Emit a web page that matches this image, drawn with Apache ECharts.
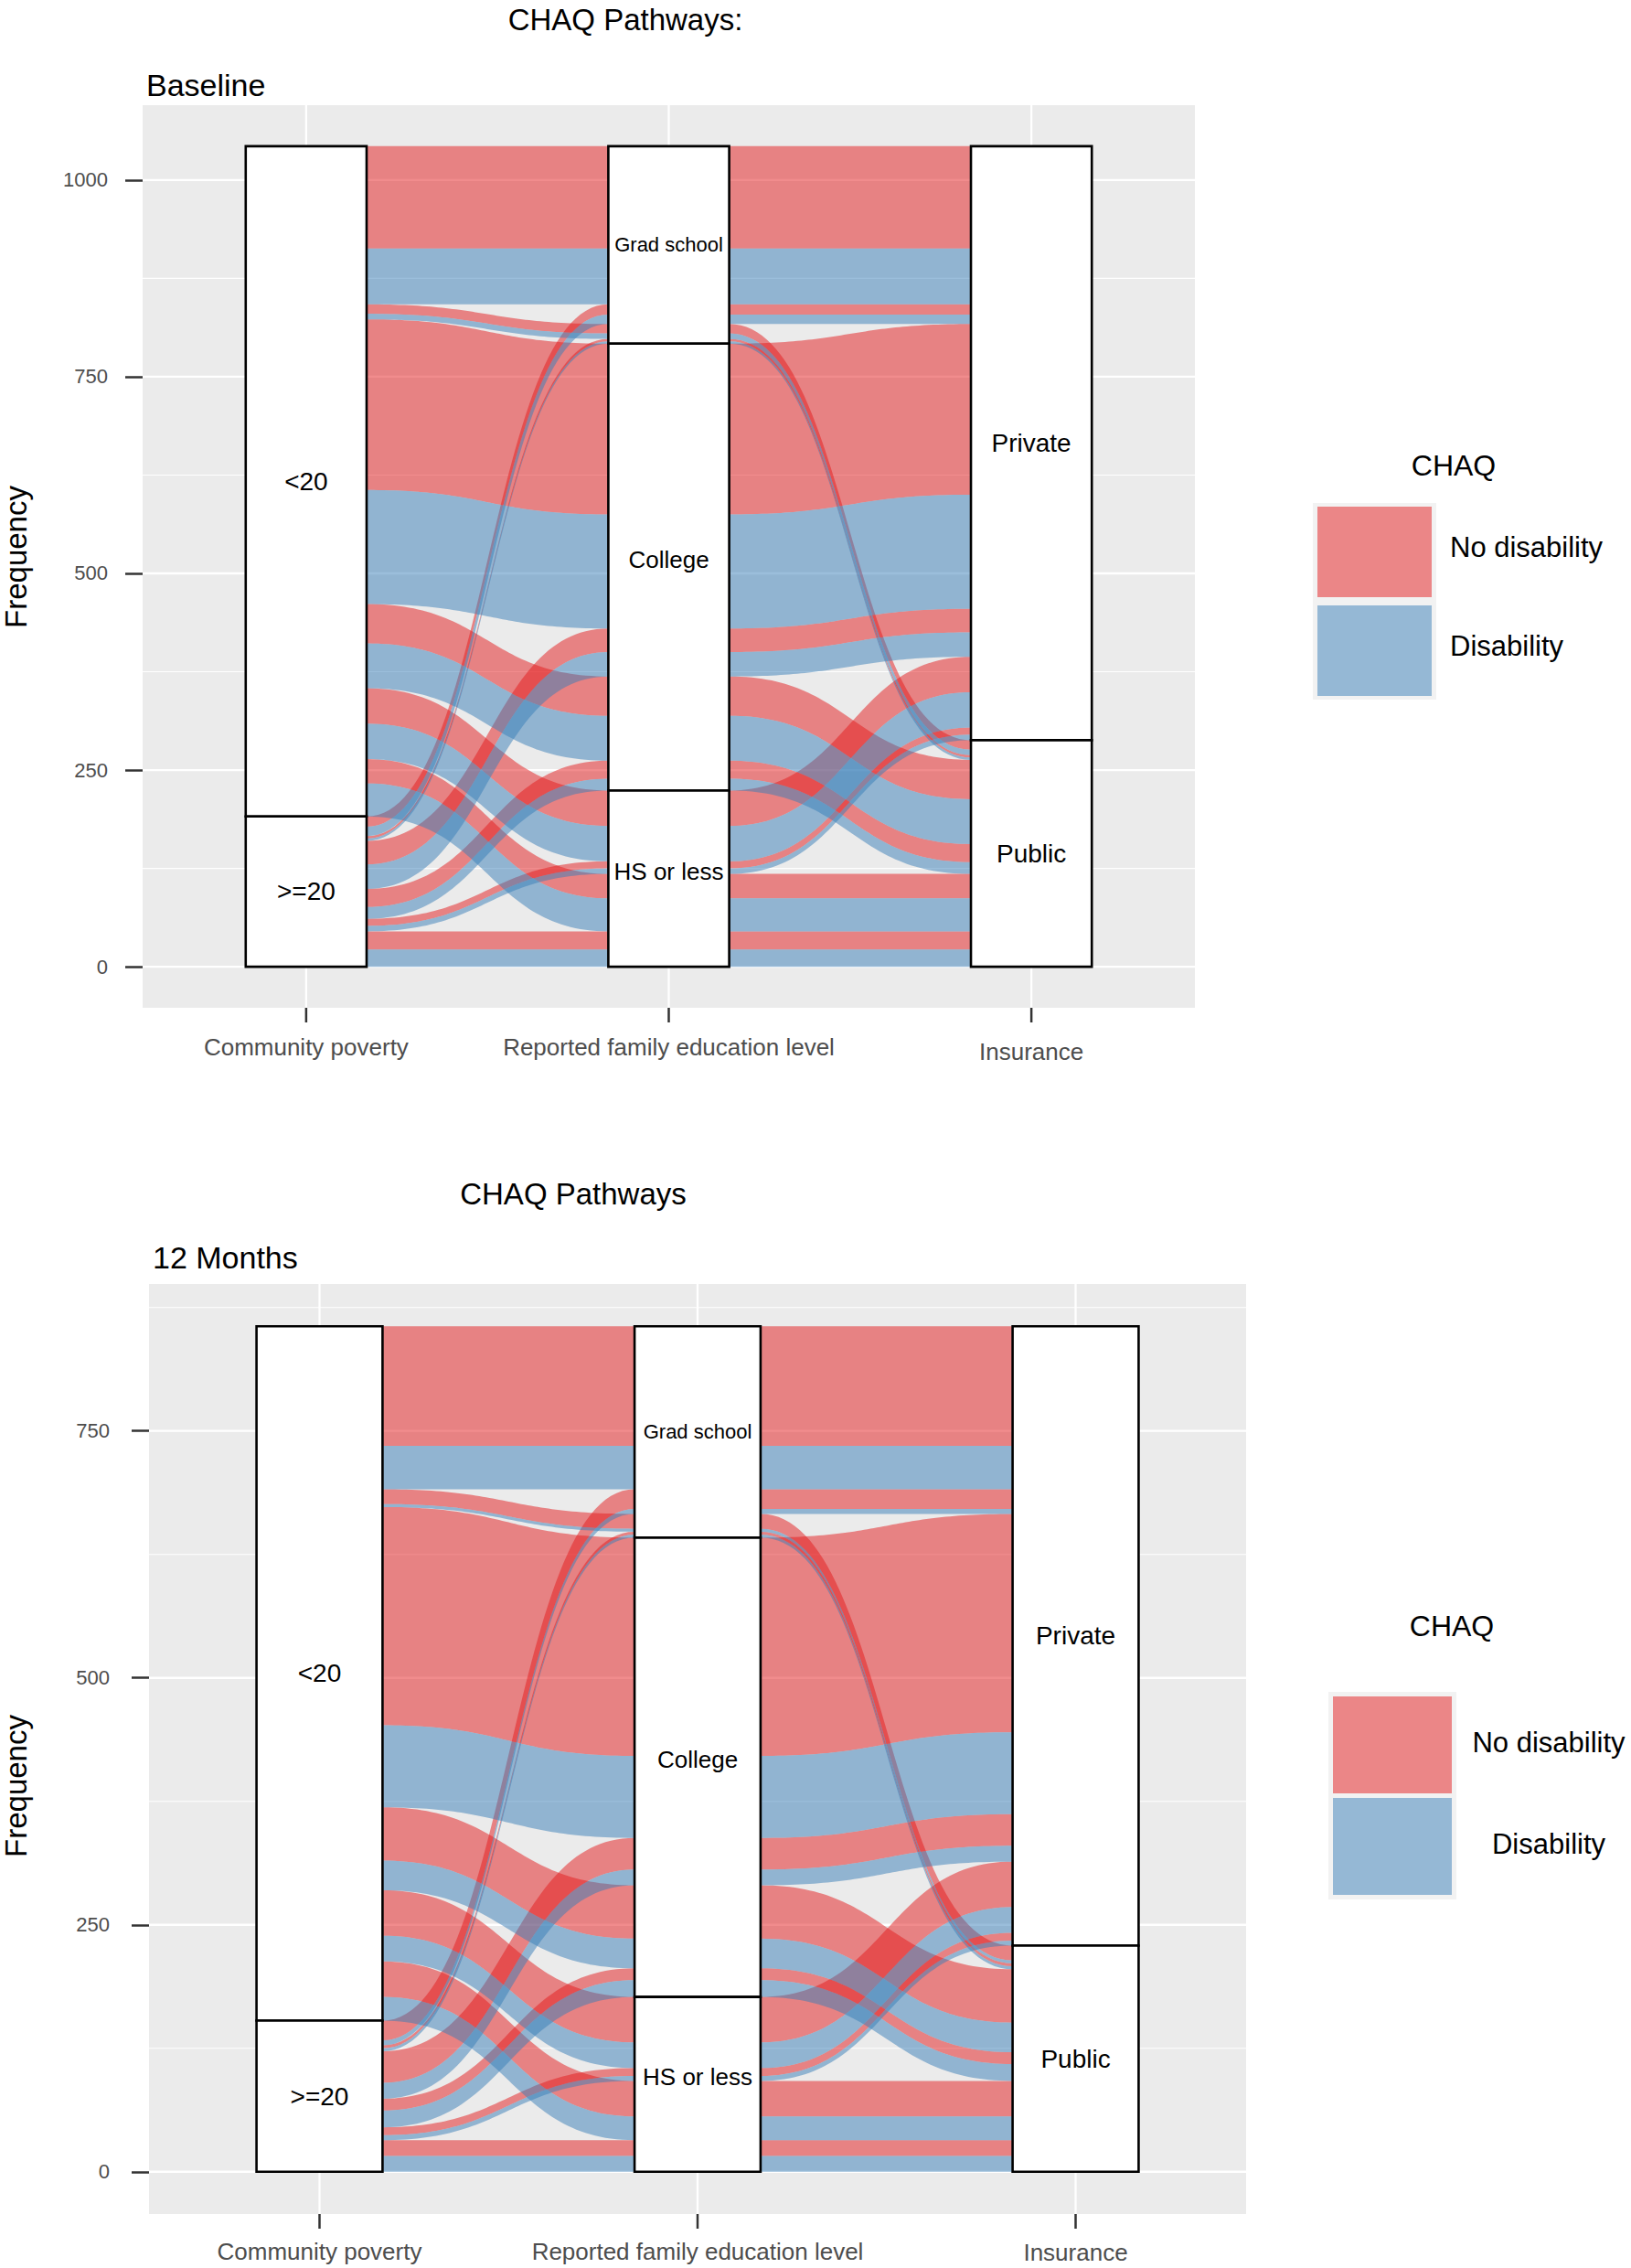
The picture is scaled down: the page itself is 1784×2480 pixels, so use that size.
<!DOCTYPE html>
<html><head><meta charset="utf-8">
<script src="https://cdn.jsdelivr.net/npm/echarts@6/dist/echarts.min.js"></script>
<style>html,body{margin:0;padding:0;background:#fff}#chart{width:1784px;height:2480px}</style>
</head><body><div id="chart"></div>
<script>
// ---------- data ----------
const axisNames = ['Community poverty', 'Reported family education level', 'Insurance'];
const povertyLevels = ['<20', '>=20'];
const educationLevels = ['Grad school', 'College', 'HS or less'];
const insuranceLevels = ['Private', 'Public'];
const chaqLevels = ['No disability', 'Disability'];
// counts per combination, ordered poverty -> education -> insurance
// (<20: Grad/Private, Grad/Public, College/Private, College/Public, HS/Private, HS/Public, then the same for >=20)
const baselineNoDisability = [130, 12, 217, 50, 45, 31, 13, 3, 30, 23, 9, 23];
const baselineDisability   = [71, 7, 145, 57, 45, 42, 12, 3, 31, 15, 7, 22];
const months12NoDisability = [121, 15, 221, 54, 46, 36, 20, 3, 32, 12, 8, 16];
const months12Disability   = [44, 3, 83, 30, 26, 24, 5, 3, 16, 17, 5, 16];
const baselineTicks = [0, 250, 500, 750, 1000];
const baselineMinorTicks = [125, 375, 625, 875];
const months12Ticks = [0, 250, 500, 750];
const months12MinorTicks = [125, 375, 625, 875];
const axisPositions = [1, 2, 3];

// ---------- layout helpers ----------
const FONT = 'Liberation Sans, Arial, Helvetica, sans-serif';
const RED = 'rgba(228,26,28,0.5)';
const BLUE = 'rgba(55,126,184,0.5)';
const HW = 1 / 6;             // half stratum width (axis units)
const XMIN = 0.549, XMAX = 3.451;
const levelSets = [povertyLevels, educationLevels, insuranceLevels];

function buildAlluvia(noDis, dis) {
  const list = [];
  let k = 0;
  for (let p = 0; p < povertyLevels.length; p++)
    for (let e = 0; e < educationLevels.length; e++)
      for (let i = 0; i < insuranceLevels.length; i++) {
        list.push({p, e, i, f: 0, n: noDis[k]});
        list.push({p, e, i, f: 1, n: dis[k]});
        k++;
      }
  const total = list.reduce((s, a) => s + a.n, 0);
  const orders = [
    a => [a.p, a.e, a.i, a.f],
    a => [a.e, a.i, a.p, a.f],
    a => [a.i, a.e, a.p, a.f]
  ];
  const keyOf = [a => a.p, a => a.e, a => a.i];
  const strata = [];
  orders.forEach((ord, ax) => {
    const sorted = list.slice().sort((a, b) => {
      const ka = ord(a), kb = ord(b);
      for (let j = 0; j < 4; j++) if (ka[j] !== kb[j]) return ka[j] - kb[j];
      return 0;
    });
    let y = total;
    const top = {}, bot = {};
    sorted.forEach(a => {
      a['t' + ax] = y; y -= a.n; a['b' + ax] = y;
      const s = keyOf[ax](a);
      if (!(s in top)) top[s] = a['t' + ax];
      bot[s] = y;
    });
    levelSets[ax].forEach((name, s) => strata.push([axisPositions[ax], top[s], bot[s], s]));
  });
  const flows = f => list.filter(a => a.f === f).map(a => [a.t0, a.b0, a.t1, a.b1, a.t2, a.b2]);
  return {total, strata, red: flows(0), blue: flows(1)};
}

function bez(p0, p1, t) {
  const xm = (p0[0] + p1[0]) / 2, u = 1 - t;
  return [
    u * u * u * p0[0] + 3 * u * u * t * xm + 3 * u * t * t * xm + t * t * t * p1[0],
    u * u * u * p0[1] + 3 * u * u * t * p0[1] + 3 * u * t * t * p1[1] + t * t * t * p1[1]
  ];
}

function flowRenderer(color) {
  return function (params, api) {
    const ys = [0, 1, 2, 3, 4, 5].map(j => api.value(j));
    const children = [];
    for (let s = 0; s < 2; s++) {
      const xa = axisPositions[s] + HW, xb = axisPositions[s + 1] - HW;
      const ta = api.coord([xa, ys[2 * s]]), ba = api.coord([xa, ys[2 * s + 1]]);
      const tb = api.coord([xb, ys[2 * s + 2]]), bb = api.coord([xb, ys[2 * s + 3]]);
      const pts = [];
      const N = 60;
      for (let j = 0; j <= N; j++) pts.push(bez(ta, tb, j / N));
      for (let j = N; j >= 0; j--) pts.push(bez(ba, bb, j / N));
      children.push({type: 'polygon', shape: {points: pts}, style: {fill: color, stroke: null}});
    }
    return {type: 'group', children};
  };
}

function renderStratum(params, api) {
  const x = api.value(0), top = api.value(1), bot = api.value(2), idx = api.value(3);
  const label = levelSets[x - 1][idx];
  const p1 = api.coord([x - HW, top]), p2 = api.coord([x + HW, bot]);
  const c = api.coord([x, (top + bot) / 2]);
  const size = label === 'Grad school' ? 22 : (x === 2 ? 26 : 28);
  const dy = (label === 'College' || label === 'HS or less') ? -8 : 0;
  return {
    type: 'group', children: [
      {type: 'rect', shape: {x: p1[0], y: p1[1], width: p2[0] - p1[0], height: p2[1] - p1[1]},
        style: {fill: '#fff', stroke: '#000', lineWidth: 2.6}},
      {type: 'text', x: c[0], y: c[1] + dy,
        style: {text: label, fontSize: size, fontFamily: FONT, fill: '#000',
          align: 'center', verticalAlign: 'middle'}}
    ]
  };
}

function gridData(total, major, minor) {
  const rows = [];
  major.forEach(v => rows.push([v, 0, 1]));
  minor.forEach(v => { if (v < total * 1.05) rows.push([v, 0, 0]); });
  axisPositions.forEach(v => rows.push([v, 1, 1]));
  return rows;
}
function gridRendererFor(total) {
  const ymin = -0.05 * total, ymax = 1.05 * total;
  return function (params, api) {
    const v = api.value(0), vert = api.value(1), major = api.value(2);
    const a = vert ? api.coord([v, ymin]) : api.coord([XMIN, v]);
    const b = vert ? api.coord([v, ymax]) : api.coord([XMAX, v]);
    const line = {type: 'line', shape: {x1: a[0], y1: a[1], x2: b[0], y2: b[1]},
      style: {stroke: '#fff', lineWidth: major ? 2.3 : 1.1}};
    if (!vert) return line;
    // x-axis tick mark below the panel
    const tick = {type: 'line', shape: {x1: a[0], y1: a[1], x2: a[0], y2: a[1] + 16},
      style: {stroke: '#333', lineWidth: 2.5}};
    return {type: 'group', children: [line, tick]};
  };
}

const panels = [
  {data: buildAlluvia(baselineNoDisability, baselineDisability), ticks: baselineTicks, minor: baselineMinorTicks,
    grid: {left: 156, top: 115, width: 1151, height: 987}, labelMargin: 38, insDrop: 5,
    titleText: 'CHAQ Pathways:', titleX: 684, titleY: 21, sub: 'Baseline', subX: 160, subY: 93, freqY: 609},
  {data: buildAlluvia(months12NoDisability, months12Disability), ticks: months12Ticks, minor: months12MinorTicks,
    grid: {left: 163, top: 1404, width: 1200, height: 1017}, labelMargin: 43, insDrop: 1,
    titleText: 'CHAQ Pathways', titleX: 627, titleY: 1305, sub: '12 Months', subX: 167, subY: 1375, freqY: 1953}
];

const grids = [], xAxes = [], yAxes = [], series = [];
panels.forEach((pn, gi) => {
  const total = pn.data.total;
  grids.push(Object.assign({show: true, backgroundColor: '#EBEBEB', borderWidth: 0}, pn.grid));
  xAxes.push({
    gridIndex: gi, type: 'value', min: XMIN, max: XMAX,
    axisLine: {show: false, onZero: false}, splitLine: {show: false},
    axisTick: {show: false},
    axisLabel: {
      customValues: axisPositions, margin: gi === 0 ? 30 : 28,
      formatter: v => { const i = Math.round(v) - 1; return (i === 2 ? '{low|' : '{n|') + axisNames[i] + '}'; },
      rich: {n: {fontSize: 26, color: '#4D4D4D', fontFamily: FONT},
        low: {fontSize: 26, color: '#4D4D4D', fontFamily: FONT, padding: [pn.insDrop, 0, 0, 0]}}
    }
  });
  yAxes.push({
    gridIndex: gi, type: 'value', min: -0.05 * total, max: 1.05 * total,
    axisLine: {show: false, onZero: false}, splitLine: {show: false},
    axisTick: {show: true, length: 19, customValues: pn.ticks, lineStyle: {color: '#333', width: 2.5}},
    axisLabel: {customValues: pn.ticks, margin: pn.labelMargin, fontSize: 22, color: '#4D4D4D', fontFamily: FONT,
      formatter: v => String(Math.round(v))}
  });
  series.push({type: 'custom', name: 'gridlines', xAxisIndex: gi, yAxisIndex: gi, z: 1, silent: true, clip: false,
    renderItem: gridRendererFor(total), data: gridData(total, pn.ticks, pn.minor)});
  series.push({type: 'custom', name: chaqLevels[0], xAxisIndex: gi, yAxisIndex: gi, z: 2, silent: true,
    itemStyle: {color: RED}, renderItem: flowRenderer(RED), data: pn.data.red});
  series.push({type: 'custom', name: chaqLevels[1], xAxisIndex: gi, yAxisIndex: gi, z: 3, silent: true,
    itemStyle: {color: BLUE}, renderItem: flowRenderer(BLUE), data: pn.data.blue});
  series.push({type: 'custom', name: 'strata', xAxisIndex: gi, yAxisIndex: gi, z: 4, silent: true,
    renderItem: renderStratum, data: pn.data.strata});
});

function txt(text, x, y, size, align, rotation) {
  return {type: 'text', x, y, z: 10, rotation: rotation || 0,
    style: {text, fontSize: size, fontFamily: FONT, fill: '#000',
    align: align || 'center', verticalAlign: 'middle'}};
}

const graphics = [
  {type: 'rect', shape: {x: 1436, y: 550, width: 135, height: 215}, style: {fill: '#F2F2F2'}, z: 0},
  {type: 'rect', shape: {x: 1453, y: 1850, width: 140, height: 227}, style: {fill: '#F2F2F2'}, z: 0},
  txt('CHAQ', 1590, 509, 32),
  txt('CHAQ', 1588, 1778, 32)
];
panels.forEach(pn => {
  graphics.push(txt(pn.titleText, pn.titleX, pn.titleY, 33));
  graphics.push(txt(pn.sub, pn.subX, pn.subY, 34, 'left'));
  graphics.push(txt('Frequency', 17, pn.freqY, 33, 'center', Math.PI / 2));
});

const option = {
  animation: false,
  backgroundColor: '#fff',
  textStyle: {fontFamily: FONT},
  grid: grids, xAxis: xAxes, yAxis: yAxes, series,
  legend: [
    {data: chaqLevels, orient: 'vertical', left: 1441, top: 554, padding: 0, itemWidth: 125, itemHeight: 99, itemGap: 9,
      icon: 'rect', selectedMode: false, z: 6, formatter: '{a|{name}}',
      textStyle: {color: '#000', fontSize: 31, fontFamily: FONT,
        rich: {a: {fontSize: 31, color: '#000', fontFamily: FONT, padding: [0, 0, 10, 15]}}}},
    {data: chaqLevels, orient: 'vertical', left: 1458, top: 1855, padding: 0, itemWidth: 130, itemHeight: 106, itemGap: 5,
      icon: 'rect', selectedMode: false, z: 6, formatter: '{a|{name}}',
      textStyle: {color: '#000', fontSize: 31, fontFamily: FONT,
        rich: {a: {fontSize: 31, color: '#000', fontFamily: FONT, width: 172, align: 'center', padding: [0, 0, 6, 15]}}}}
  ],
  graphic: graphics
};

const chart = echarts.init(document.getElementById('chart'), null, {renderer: 'svg', width: 1784, height: 2480});
chart.setOption(option);
</script>
</body></html>
